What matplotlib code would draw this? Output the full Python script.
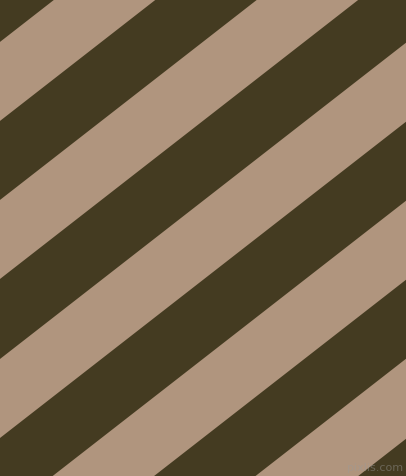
import matplotlib
matplotlib.use("Agg")
import matplotlib.pyplot as plt
import numpy as np

# stripe edges, read where each one meets the left border (px from top)
edges = [-37, 42, 121, 200, 279, 359, 438, 517, 596, 675, 755, 834]
slope = 0.779          # drop in y per px across (about 38 deg)
dark, tan = "#443B21", "#B0957E"

W, H = 406, 476

fig = plt.figure(figsize=(W / 100 + 0.001, H / 100 + 0.001), dpi=100)
fig.patch.set_facecolor(dark)
ax = fig.add_axes([0, 0, 1, 1])
ax.set_facecolor(dark)
ax.set_xlim(0, W)
ax.set_ylim(H, 0)
ax.axis("off")

# run a bit past both borders so no seam shows at the edges
x = np.array([-10, W + 10])
# dark is the background, only the tan bands get painted
for i in range(1, len(edges) - 1, 2):
    top = edges[i] - slope * x
    bottom = edges[i + 1] - slope * x
    ax.fill_between(x, top, bottom, color=tan, lw=0, clip_on=False)

ax.text(403, 468, "pixlis.com", color="#9a9a9a", alpha=0.45,
        fontsize=8, ha="right", va="center")

fig.savefig("out.png", dpi=100, facecolor=dark)
